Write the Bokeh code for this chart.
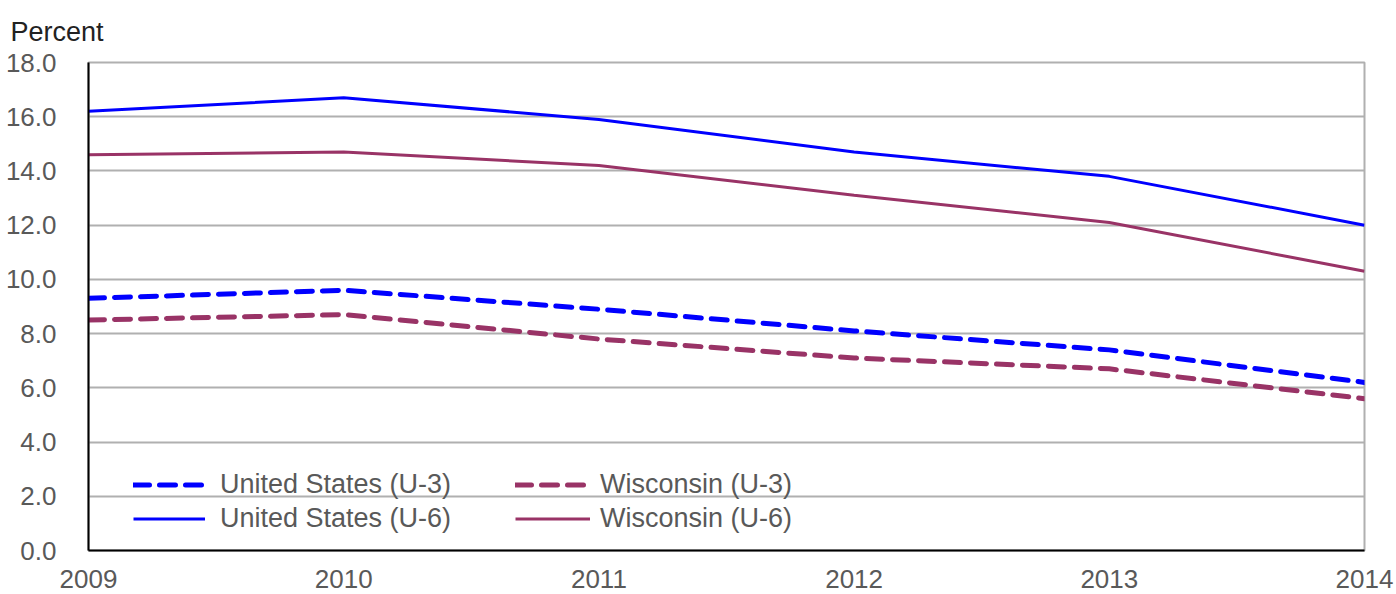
from bokeh.plotting import figure
from bokeh.models import Legend, LegendItem, NumeralTickFormatter, FixedTicker, Range1d, Title
from bokeh.embed import file_html
from bokeh.resources import INLINE

years = [2009, 2010, 2011, 2012, 2013, 2014]
us_u3 = [9.3, 9.6, 8.9, 8.1, 7.4, 6.2]
wi_u3 = [8.5, 8.7, 7.8, 7.1, 6.7, 5.6]
us_u6 = [16.2, 16.7, 15.9, 14.7, 13.8, 12.0]
wi_u6 = [14.6, 14.7, 14.2, 13.1, 12.1, 10.3]
y_ticks = [0, 2, 4, 6, 8, 10, 12, 14, 16, 18]

BLUE = "#0000FF"
MAROON = "#993366"
FONT = "Liberation Sans"
GRAY_TXT = "#595959"

p = figure(width=1396, height=594, output_backend="svg", toolbar_location=None,
           x_range=Range1d(2009, 2014), y_range=Range1d(0, 18),
           min_border_left=88, min_border_right=32, min_border_top=62, min_border_bottom=44)

p.add_layout(Title(text="Percent", align="left", offset=-78, standoff=28,
                   vertical_align="top",
                   text_font=FONT, text_font_size="27px", text_font_style="normal",
                   text_color="#222222"), "above")

p.outline_line_color = "#b0b0b0"
p.outline_line_width = 2

p.xgrid.visible = False
p.ygrid.ticker = FixedTicker(ticks=y_ticks)
p.ygrid.grid_line_color = "#b0b0b0"
p.ygrid.grid_line_width = 2

p.yaxis.ticker = FixedTicker(ticks=y_ticks)
p.yaxis.formatter = NumeralTickFormatter(format="0.0")
p.xaxis.ticker = FixedTicker(ticks=years)
for ax in (p.xaxis, p.yaxis):
    ax.axis_line_color = "black"
    ax.axis_line_width = 2
    ax.major_tick_line_color = None
    ax.minor_tick_line_color = None
    ax.major_label_text_font = FONT
    ax.major_label_text_font_size = "26px"
    ax.major_label_text_color = GRAY_TXT
p.yaxis.major_label_standoff = 26
p.xaxis.major_label_standoff = 13

r_us3 = p.line(years, us_u3, line_color=BLUE, line_width=5, line_dash="16 10", line_cap="round")
r_wi3 = p.line(years, wi_u3, line_color=MAROON, line_width=5, line_dash="16 10", line_cap="round")
r_wi6 = p.line(years, wi_u6, line_color=MAROON, line_width=3)
r_us6 = p.line(years, us_u6, line_color=BLUE, line_width=3)

def make_legend(items, loc, gw, standoff):
    lg = Legend(items=items, location=loc, orientation="vertical",
                background_fill_alpha=0, border_line_alpha=0,
                padding=0, margin=0, spacing=3,
                glyph_width=gw, glyph_height=27, label_height=27,
                label_standoff=standoff,
                label_text_font=FONT, label_text_font_size="27px",
                label_text_color=GRAY_TXT)
    p.add_layout(lg, "center")

make_legend([LegendItem(label="United States (U-3)", renderers=[r_us3]),
             LegendItem(label="United States (U-6)", renderers=[r_us6])], (45, 16), 72, 15)
make_legend([LegendItem(label="Wisconsin (U-3)", renderers=[r_wi3]),
             LegendItem(label="Wisconsin (U-6)", renderers=[r_wi6])], (427, 16), 75, 10)

open("out.html", "w").write(file_html(p, INLINE))
